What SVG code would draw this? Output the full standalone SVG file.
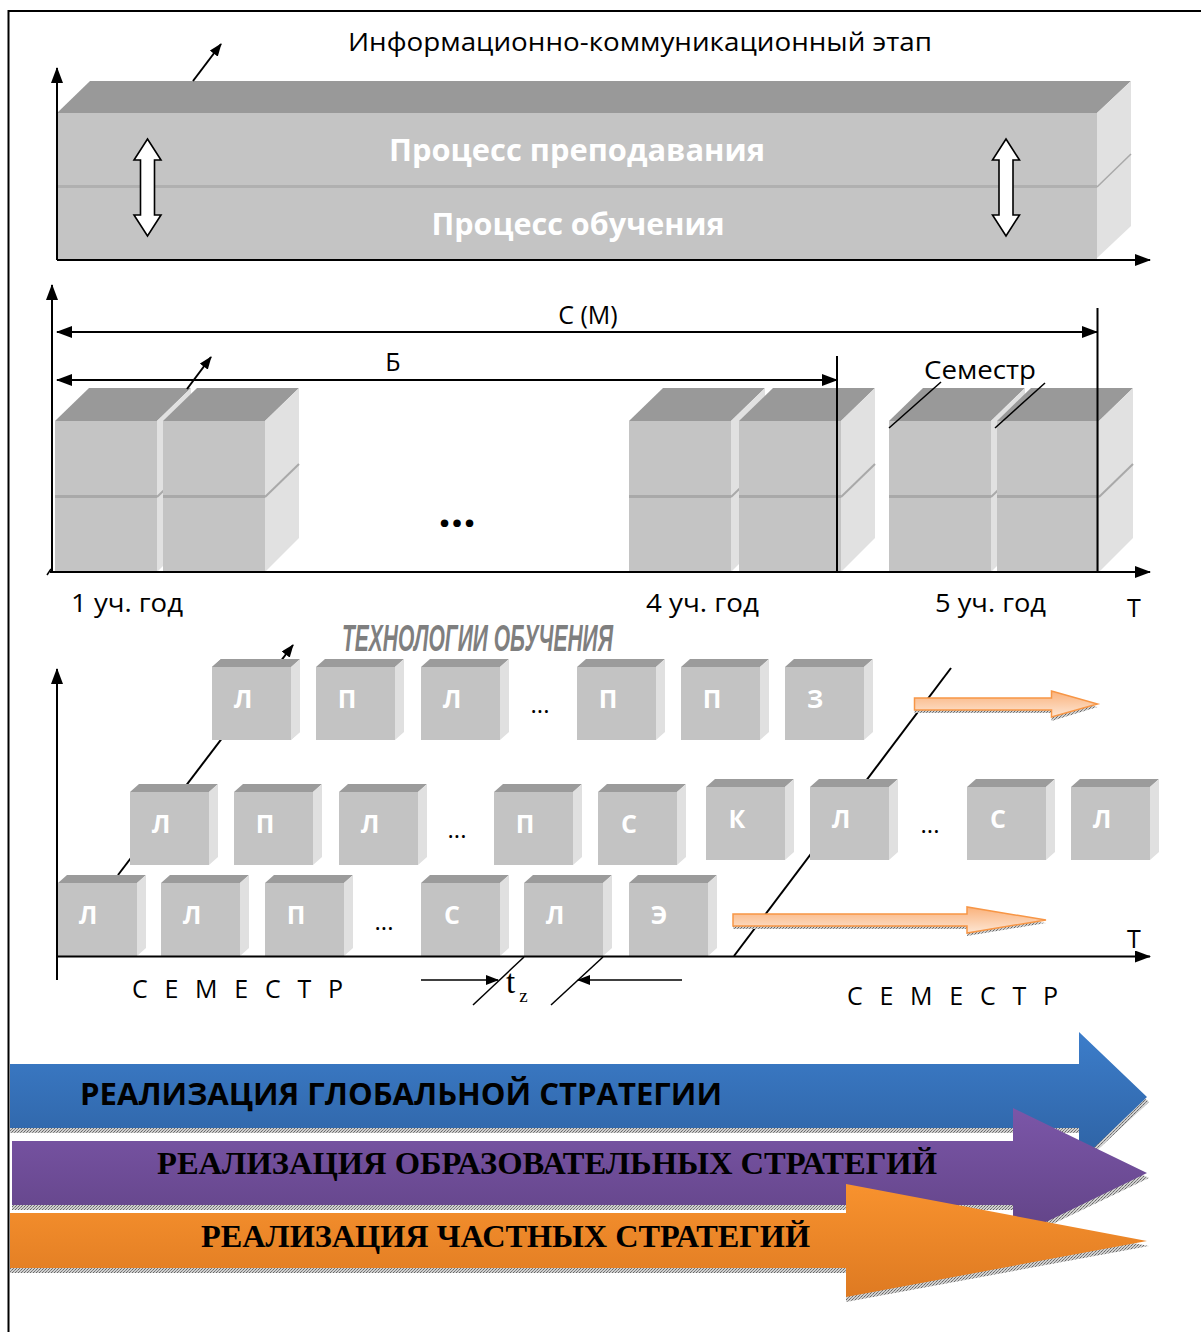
<svg xmlns="http://www.w3.org/2000/svg" width="1201" height="1332" viewBox="0 0 1201 1332">
<style>
.ln{stroke:#000;stroke-width:2;fill:none}
.sans{font-family:"Open Sans","Noto Sans","Liberation Sans",sans-serif}
.lbl{font-family:"Open Sans","Noto Sans","Liberation Sans",sans-serif;font-size:25px;fill:#000}
.cl{font-family:"Open Sans","Noto Sans","Liberation Sans",sans-serif;font-weight:700;font-size:25px;fill:#fff;text-anchor:middle}
.dots{font-family:"Open Sans","Noto Sans",sans-serif;font-size:24px;fill:#000;text-anchor:middle}
.big{font-weight:700;fill:#000}
</style>
<defs>
<marker id="ah" markerUnits="userSpaceOnUse" markerWidth="16" markerHeight="12" refX="15" refY="6" orient="auto-start-reverse"><path d="M0,0 L16,6 L0,12 z" fill="#000"/></marker>
<marker id="ahs" markerUnits="userSpaceOnUse" markerWidth="13" markerHeight="10" refX="12" refY="5" orient="auto"><path d="M0,0 L13,5 L0,10 z" fill="#000"/></marker>
<pattern id="dpat" width="3" height="3" patternUnits="userSpaceOnUse"><rect width="3" height="3" fill="#cfcfcf"/><rect width="1" height="1" fill="#666"/><rect x="2" y="1" width="1" height="1" fill="#888"/><rect x="1" y="2" width="1" height="1" fill="#777"/></pattern>
<linearGradient id="gb" x1="0" y1="0" x2="0" y2="1"><stop offset="0" stop-color="#3c7dca"/><stop offset="1" stop-color="#2e62a3"/></linearGradient>
<linearGradient id="gp" x1="0" y1="0" x2="0" y2="1"><stop offset="0" stop-color="#7b56a8"/><stop offset="1" stop-color="#614386"/></linearGradient>
<linearGradient id="go" x1="0" y1="0" x2="0" y2="1"><stop offset="0" stop-color="#f8922e"/><stop offset="1" stop-color="#de7a22"/></linearGradient>
<linearGradient id="gl" x1="0" y1="0" x2="0" y2="1"><stop offset="0" stop-color="#fab27c"/><stop offset="1" stop-color="#fde6d4"/></linearGradient>
<g id="stack">
<polygon points="0,421 34,388 136,388 102,421" fill="#999"/>
<rect x="0" y="421" width="102" height="151" fill="#c4c4c4"/>
<rect x="0" y="495" width="102" height="3" fill="#a9a9a9"/>
<polygon points="102,421 136,388 136,538 102,572" fill="#e1e1e1"/>
<line x1="102" y1="497" x2="136" y2="464" stroke="#a9a9a9" stroke-width="2"/>
</g>
<g id="sc">
<polygon points="0,8 9,0 88,0 79,8" fill="#9b9b9b"/>
<rect x="0" y="8" width="79" height="73" fill="#c3c3c3"/>
<polygon points="79,8 88,0 88,73 79,81" fill="#e0e0e0"/>
</g>
<g id="dbl"><polygon points="0,139 13.5,160 7,160 7,215 13.5,215 0,236 -13.5,215 -7,215 -7,160 -13.5,160" fill="#fff" stroke="#000" stroke-width="1.6" stroke-linejoin="miter"/></g>
</defs>

<rect x="0" y="0" width="1201" height="1332" fill="#fff"/>

<g id="frame">
<path d="M8.5,1332 L8.5,11 L1201,11" class="ln"/>
</g>

<!-- Section 1 -->
<g id="slab">
<polygon points="57,113 90,81 1131,81 1097,113" fill="#999"/>
<rect x="57" y="113" width="1040" height="147" fill="#c4c4c4"/>
<rect x="57" y="185" width="1040" height="3" fill="#b0b0b0"/>
<polygon points="1097,113 1131,81 1131,226 1097,258" fill="#e1e1e1"/>
<line x1="1097" y1="187" x2="1131" y2="154" stroke="#a9a9a9" stroke-width="1.5"/>
<text x="577" y="161" class="sans" font-size="30" font-weight="700" fill="#fff" text-anchor="middle" textLength="376" lengthAdjust="spacingAndGlyphs">Процесс преподавания</text>
<text x="578" y="235" class="sans" font-size="30" font-weight="700" fill="#fff" text-anchor="middle" textLength="293" lengthAdjust="spacingAndGlyphs">Процесс обучения</text>
</g>
<g id="dblarrow1"><use href="#dbl" x="147.5"/></g>
<g id="dblarrow2"><use href="#dbl" x="1006"/></g>
<g id="title1"><text x="348" y="51" class="lbl" font-size="25" textLength="584" lengthAdjust="spacingAndGlyphs">Информационно-коммуникационный этап</text></g>

<!-- Section 2 stacks -->
<g id="year1"><use href="#stack" x="55"/><use href="#stack" x="163"/></g>
<g id="year4"><use href="#stack" x="629"/><use href="#stack" x="739"/></g>
<g id="year5"><use href="#stack" x="889"/><use href="#stack" x="997"/></g>
<g id="ellipsis2"><text x="457" y="527" class="sans" font-size="44" font-weight="700" text-anchor="middle">...</text></g>

<!-- Section 3 cubes -->
<g id="row1">
<use href="#sc" x="212" y="659"/><text class="cl" x="243" y="708">Л</text>
<use href="#sc" x="316" y="659"/><text class="cl" x="347" y="708">П</text>
<use href="#sc" x="421" y="659"/><text class="cl" x="452" y="708">Л</text>
<text class="dots" x="540" y="713">...</text>
<use href="#sc" x="577" y="659"/><text class="cl" x="608" y="708">П</text>
<use href="#sc" x="681" y="659"/><text class="cl" x="712" y="708">П</text>
<use href="#sc" x="785" y="659"/><text class="cl" x="815" y="708">З</text>
</g>
<g id="connectors-back">
<line x1="118" y1="875" x2="293" y2="645" class="ln" marker-end="url(#ahs)"/>
<line x1="734" y1="956" x2="951" y2="668" class="ln"/>
</g>
<g id="row1cover">
<use href="#sc" x="212" y="659"/><text class="cl" x="243" y="708">Л</text>
</g>
<g id="row2">
<use href="#sc" x="130" y="784"/><text class="cl" x="161" y="833">Л</text>
<use href="#sc" x="234" y="784"/><text class="cl" x="265" y="833">П</text>
<use href="#sc" x="339" y="784"/><text class="cl" x="370" y="833">Л</text>
<text class="dots" x="457" y="838">...</text>
<use href="#sc" x="494" y="784"/><text class="cl" x="525" y="833">П</text>
<use href="#sc" x="598" y="784"/><text class="cl" x="629" y="833">С</text>
<use href="#sc" x="706" y="779"/><text class="cl" x="737" y="828">К</text>
<use href="#sc" x="810" y="779"/><text class="cl" x="841" y="828">Л</text>
<text class="dots" x="930" y="833">...</text>
<use href="#sc" x="967" y="779"/><text class="cl" x="998" y="828">С</text>
<use href="#sc" x="1071" y="779"/><text class="cl" x="1102" y="828">Л</text>
</g>
<g id="row3">
<use href="#sc" x="58" y="875"/><text class="cl" x="88" y="924">Л</text>
<use href="#sc" x="161" y="875"/><text class="cl" x="192" y="924">Л</text>
<use href="#sc" x="265" y="875"/><text class="cl" x="296" y="924">П</text>
<text class="dots" x="384" y="930">...</text>
<use href="#sc" x="421" y="875"/><text class="cl" x="452" y="924">С</text>
<use href="#sc" x="524" y="875"/><text class="cl" x="555" y="924">Л</text>
<use href="#sc" x="629" y="875"/><text class="cl" x="659" y="924">Э</text>
</g>
<g id="tech-title"><text x="342" y="651" font-family="'Liberation Sans',Arial,sans-serif" font-size="37" font-weight="700" font-style="italic" fill="#7f7f7f" textLength="271" lengthAdjust="spacingAndGlyphs">ТЕХНОЛОГИИ ОБУЧЕНИЯ</text></g>

<g id="orange-arrows">
<path d="M914.5,701 L1051.5,701 L1051.5,695 L1097.5,707 L1051.5,721 L1051.5,713 L914.5,713 Z" fill="url(#dpat)"/>
<path d="M914.5,698 L1051.5,698 L1051.5,691 L1097.5,704 L1051.5,717 L1051.5,710 L914.5,710 Z" fill="url(#gl)" stroke="#f79646" stroke-width="1.5"/>
<path d="M733,917 L967,917 L967,911 L1046,923 L967,936 L967,929 L733,929 Z" fill="url(#dpat)"/>
<path d="M733,914 L967,914 L967,907 L1046,920 L967,933 L967,926 L733,926 Z" fill="url(#gl)" stroke="#f79646" stroke-width="1.5"/>
</g>

<!-- Connectors / axes -->
<g id="connectors">
<line x1="57" y1="260" x2="57" y2="68" class="ln" marker-end="url(#ah)"/>
<line x1="57" y1="260" x2="1150" y2="260" class="ln" marker-end="url(#ah)"/>
<line x1="193" y1="81" x2="221" y2="44" class="ln" marker-end="url(#ahs)"/>
<line x1="52" y1="572" x2="52" y2="285" class="ln" marker-end="url(#ah)"/>
<line x1="50" y1="572" x2="1150" y2="572" class="ln" marker-end="url(#ah)"/>
<line x1="47" y1="575" x2="51" y2="569" stroke="#000" stroke-width="1.5"/>
<line x1="57" y1="332" x2="1097" y2="332" class="ln" marker-start="url(#ah)" marker-end="url(#ah)"/>
<line x1="57" y1="380" x2="837" y2="380" class="ln" marker-start="url(#ah)" marker-end="url(#ah)"/>
<line x1="837" y1="356" x2="837" y2="572" class="ln"/>
<line x1="1097.5" y1="308" x2="1097.5" y2="572" class="ln"/>
<line x1="187" y1="389" x2="211" y2="357" class="ln" marker-end="url(#ahs)"/>
<line x1="941" y1="382" x2="889" y2="428" stroke="#000" stroke-width="1.5"/>
<line x1="1045" y1="383" x2="995" y2="428" stroke="#000" stroke-width="1.5"/>
<line x1="57" y1="980" x2="57" y2="669" class="ln" marker-end="url(#ah)"/>
<line x1="57" y1="956.5" x2="1150" y2="956.5" class="ln" marker-end="url(#ah)"/>
<line x1="421" y1="980" x2="498" y2="980" stroke="#000" stroke-width="1.5" marker-end="url(#ahs)"/>
<line x1="682" y1="980" x2="578" y2="980" stroke="#000" stroke-width="1.5" marker-end="url(#ahs)"/>
<line x1="473" y1="1005" x2="524" y2="957" stroke="#000" stroke-width="1.5"/>
<line x1="551" y1="1005" x2="603" y2="957" stroke="#000" stroke-width="1.5"/>
</g>

<g id="labels">
<text x="588" y="324" class="lbl" font-size="26" text-anchor="middle">С (М)</text>
<text x="393" y="371" class="lbl" font-size="26" text-anchor="middle">Б</text>
<text x="980" y="379" class="lbl" font-size="26" text-anchor="middle" textLength="112" lengthAdjust="spacingAndGlyphs">Семестр</text>
<text x="71" y="612" class="lbl" textLength="112" lengthAdjust="spacingAndGlyphs">1 уч. год</text>
<text x="646" y="612" class="lbl" textLength="113" lengthAdjust="spacingAndGlyphs">4 уч. год</text>
<text x="935" y="612" class="lbl" textLength="111" lengthAdjust="spacingAndGlyphs">5 уч. год</text>
<text x="1134" y="617" class="lbl" font-size="29" text-anchor="middle">Т</text>
<text x="1134" y="948" class="lbl" font-size="29" text-anchor="middle">Т</text>
<text x="132" y="998" class="lbl" font-size="27" textLength="211" lengthAdjust="spacing">С Е М Е С Т Р</text>
<text x="847" y="1005" class="lbl" font-size="27" textLength="211" lengthAdjust="spacing">С Е М Е С Т Р</text>
<text x="506" y="993" font-family="'Liberation Serif','Times New Roman',serif" font-size="33" fill="#000">t<tspan font-size="19" dx="4" dy="9">z</tspan></text>
</g>

<!-- Section 4 strategy arrows -->
<g id="global">
<path d="M10,1069 L1079,1069 L1079,1037 L1149,1102 L1079,1167 L1079,1133 L10,1133 Z" fill="url(#dpat)"/>
<path d="M10,1064 L1079,1064 L1079,1032 L1147,1097 L1079,1162 L1079,1128 L10,1128 Z" fill="url(#gb)"/>
<text x="80" y="1105" class="sans big" font-size="31" textLength="642" lengthAdjust="spacingAndGlyphs">РЕАЛИЗАЦИЯ ГЛОБАЛЬНОЙ СТРАТЕГИИ</text>
</g>
<g id="educational">
<path d="M12,1146 L1013,1146 L1013,1113 L1149,1178 L1013,1243 L1013,1210 L12,1210 Z" fill="url(#dpat)"/>
<path d="M12,1141 L1013,1141 L1013,1108 L1147,1173 L1013,1238 L1013,1205 L12,1205 Z" fill="url(#gp)"/>
<text x="157" y="1174" font-family="'Liberation Serif','Times New Roman',serif" class="big" font-size="31" textLength="780" lengthAdjust="spacingAndGlyphs">РЕАЛИЗАЦИЯ ОБРАЗОВАТЕЛЬНЫХ СТРАТЕГИЙ</text>
</g>
<g id="partial">
<path d="M10,1218 L846,1218 L846,1189 L1149,1246 L846,1302 L846,1273 L10,1273 Z" fill="url(#dpat)"/>
<path d="M10,1213 L846,1213 L846,1184 L1147,1241 L846,1297 L846,1268 L10,1268 Z" fill="url(#go)"/>
<text x="201" y="1247" font-family="'Liberation Serif','Times New Roman',serif" class="big" font-size="31" textLength="609" lengthAdjust="spacingAndGlyphs">РЕАЛИЗАЦИЯ ЧАСТНЫХ СТРАТЕГИЙ</text>
</g>
</svg>
